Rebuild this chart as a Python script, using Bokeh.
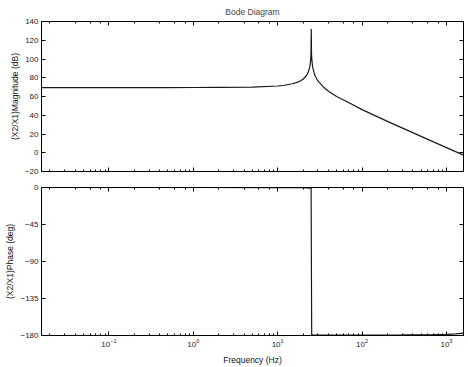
from bokeh.plotting import figure
from bokeh.models import (LogAxis, LinearAxis, Range1d, FixedTicker, LogTicker,
                          CustomJSTickFormatter)
from bokeh.layouts import column
from bokeh.embed import file_html
from bokeh.resources import INLINE

# ---- data ----
freq_hz = [0.0159155, 0.05, 0.1, 0.5, 1, 2, 5, 10, 12, 15, 18, 20, 22, 23, 24, 24.5,
           24.8, 25.0, 25.2, 25.5, 26, 27, 28, 30, 35, 40, 50, 70, 100, 200, 500,
           1000, 1591.55]
mag_db = [69.5, 69.5, 69.5, 69.5, 69.6, 69.7, 70.0, 71.2, 72.0, 73.6, 75.9, 78.4,
          82.4, 85.8, 91.6, 97.5, 105.0, 132.0, 105.0, 97.4, 91.3, 85.1, 81.4,
          76.6, 69.9, 65.6, 60.0, 53.4, 46.0, 33.5, 17.5, 5.5, -2.5]

phase_freq = [0.0159155, 1, 10, 20, 24.9, 25.3, 26, 50, 100, 300, 700, 1000, 1300,
              1591.55]
phase_deg = [0, 0, -0.1, -0.3, -0.8, -179.0, -179.3, -179.4, -179.4, -179.3,
             -179.0, -178.6, -178.0, -177.0]

mag_ticks = [-20, 0, 20, 40, 60, 80, 100, 120, 140]
phase_ticks = [-180, -135, -90, -45, 0]

FONT = "Liberation Sans"
X_LO, X_HI = 0.0159155, 1591.55


def style_axis(ax, show_labels=True, minor=True, label_standoff=4):
    ax.axis_line_color = "black"
    ax.major_tick_in = 4
    ax.major_tick_out = 0
    ax.minor_tick_in = 2 if minor else 0
    ax.minor_tick_out = 0
    if not minor:
        ax.minor_tick_line_color = None
    ax.major_tick_line_color = "black"
    ax.major_label_text_font = FONT
    ax.major_label_text_color = "#1a1a1a"
    ax.axis_label_text_font = FONT
    ax.axis_label_text_font_size = "8.5px"
    ax.axis_label_text_font_style = "normal"
    ax.axis_label_text_color = "#111111"
    ax.axis_label_standoff = label_standoff
    if show_labels:
        ax.major_label_text_font_size = "8px"
        ax.major_label_standoff = 3
    else:
        ax.formatter = CustomJSTickFormatter(code="return ''")
        ax.major_label_text_font_size = "1px"
        ax.major_label_standoff = 0


def make_fig(height, ymin, ymax, yticks, top_border, bottom_border, show_x_labels):
    p = figure(width=468, height=height, x_axis_type="log",
               x_range=Range1d(X_LO, X_HI), y_range=Range1d(ymin, ymax),
               output_backend="svg", toolbar_location=None,
               min_border_left=41, min_border_right=5,
               min_border_top=top_border, min_border_bottom=bottom_border)
    p.grid.visible = False
    p.outline_line_color = "black"
    p.background_fill_color = "white"
    p.border_fill_color = "white"
    p.yaxis.ticker = FixedTicker(ticks=yticks)
    for ax in p.xaxis:
        style_axis(ax, show_labels=show_x_labels, minor=True, label_standoff=5)
    for ax in p.yaxis:
        style_axis(ax, show_labels=True, minor=False, label_standoff=2)
    top = LogAxis(ticker=LogTicker())
    style_axis(top, show_labels=False, minor=True)
    p.add_layout(top, "above")
    right = LinearAxis(ticker=FixedTicker(ticks=yticks))
    style_axis(right, show_labels=False, minor=False)
    p.add_layout(right, "right")
    return p


p1 = make_fig(179, -20, 140, mag_ticks, 19, 8, False)
p1.title.text = "Bode Diagram"
p1.title.align = "center"
p1.title.text_font = FONT
p1.title.text_font_size = "8.5px"
p1.title.text_font_style = "normal"
p1.title.standoff = 9
p1.title.offset = 0
p1.left[0].axis_label = "(X2/X1)Magnitude (dB)"
p1.line(freq_hz, mag_db, line_color="#1a1a1a", line_width=1.2)

p2 = make_fig(188, -180, 0, phase_ticks, 8, 30, True)
p2.left[0].axis_label = "(X2/X1)Phase (deg)"
p2.below[0].axis_label = "Frequency (Hz)"
p2.line(phase_freq, phase_deg, line_color="#1a1a1a", line_width=1.2)

layout = column(p1, p2, spacing=0)
open("out.html", "w").write(file_html(layout, INLINE))
